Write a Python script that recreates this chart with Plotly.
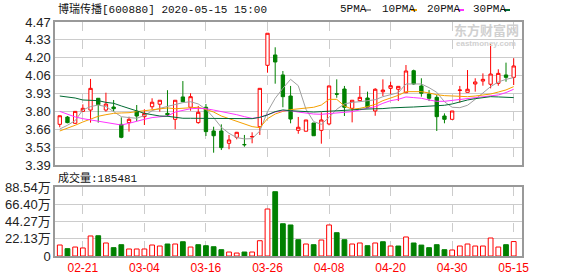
import plotly.graph_objects as go

dates = ["02-18","02-19","02-20","02-21","02-24","02-25","02-26","02-27","02-28",
         "03-02","03-03","03-04","03-05","03-06","03-09","03-10","03-11","03-12","03-13",
         "03-16","03-17","03-18","03-19","03-20","03-23","03-24","03-25","03-26","03-27",
         "03-30","03-31","04-01","04-02","04-03","04-07","04-08","04-09","04-10","04-13",
         "04-14","04-15","04-16","04-17","04-20","04-21","04-22","04-23","04-24","04-27",
         "04-28","04-29","04-30","05-06","05-07","05-08","05-11","05-12","05-13","05-14","05-15"]

opens = [3.697,3.752,3.705,3.795,3.805,3.894,3.805,3.828,3.697,3.710,
         3.796,3.755,3.830,3.849,3.780,3.735,3.904,3.826,3.710,3.826,
         3.647,3.647,3.554,3.599,3.545,3.602,3.679,4.143,4.221,4.070,
         3.911,3.652,3.645,3.707,3.652,3.700,3.928,3.964,3.818,3.876,
         3.896,3.798,3.943,3.969,3.962,3.936,4.102,3.987,3.926,3.901,
         3.760,3.735,3.953,3.939,4.002,4.024,4.000,4.007,4.070,4.052]
highs = [3.762,3.760,3.795,3.848,4.040,3.894,3.936,3.881,3.750,3.755,
         3.843,3.811,3.894,3.880,3.955,3.879,4.024,3.932,3.836,3.851,
         3.679,3.697,3.617,3.640,3.617,3.637,3.969,4.385,4.279,4.100,
         3.987,3.753,3.730,3.707,3.788,3.990,4.037,3.987,3.879,3.987,
         3.944,3.970,4.037,4.019,3.985,4.145,4.110,4.045,3.956,3.919,
         3.780,3.798,3.987,4.107,4.045,4.082,4.304,4.113,4.163,4.196]
lows = [3.675,3.705,3.700,3.795,3.710,3.710,3.793,3.793,3.592,3.642,
        3.722,3.692,3.811,3.793,3.755,3.660,3.865,3.800,3.702,3.609,
        3.483,3.503,3.509,3.584,3.528,3.554,3.617,4.087,4.004,3.826,
        3.705,3.626,3.645,3.611,3.551,3.690,3.898,3.760,3.712,3.870,
        3.826,3.762,3.911,3.926,3.873,3.936,3.995,3.906,3.873,3.647,
        3.705,3.735,3.861,3.939,3.944,3.989,3.969,3.989,4.019,3.994]
closes = [3.762,3.710,3.795,3.818,3.969,3.846,3.850,3.815,3.599,3.735,
          3.760,3.780,3.864,3.879,3.770,3.879,3.868,3.906,3.788,3.642,
          3.611,3.521,3.579,3.637,3.543,3.605,3.969,4.385,4.168,3.906,
          3.737,3.675,3.730,3.611,3.730,3.987,3.925,3.826,3.879,3.901,
          3.826,3.962,3.956,3.989,3.984,4.100,4.002,3.932,3.894,3.755,
          3.735,3.798,3.956,3.962,4.017,4.037,4.077,4.082,4.052,4.138]

ma5 = [3.662,3.690,3.725,3.806,3.831,3.843,3.831,3.793,3.755,3.748,
       3.743,3.763,3.800,3.818,3.833,3.848,3.861,3.868,3.851,3.811,
       3.748,3.675,3.629,3.597,3.587,3.589,3.647,3.793,3.894,3.969,
       4.037,3.989,3.811,3.718,3.697,3.750,3.811,3.851,3.863,3.868,
       3.873,3.883,3.906,3.921,3.936,4.002,4.002,4.002,3.974,3.939,
       3.868,3.826,3.823,3.841,3.886,3.931,3.982,4.017,4.037,4.050]
ma10 = [3.647,3.667,3.690,3.715,3.738,3.758,3.770,3.780,3.783,3.785,
        3.793,3.800,3.806,3.811,3.821,3.815,3.818,3.822,3.826,3.810,
        3.790,3.760,3.740,3.720,3.703,3.680,3.672,3.740,3.775,3.795,
        3.808,3.813,3.818,3.826,3.843,3.886,3.886,3.836,3.811,3.818,
        3.831,3.848,3.876,3.896,3.916,3.944,3.944,3.944,3.934,3.921,
        3.914,3.911,3.909,3.906,3.911,3.919,3.926,3.941,3.957,3.982]
ma20 = [3.795,3.773,3.753,3.740,3.730,3.718,3.710,3.700,3.692,3.705,
        3.722,3.735,3.748,3.755,3.760,3.790,3.805,3.815,3.818,3.815,
        3.805,3.795,3.785,3.770,3.755,3.742,3.750,3.768,3.790,3.800,
        3.800,3.790,3.780,3.775,3.773,3.778,3.785,3.790,3.793,3.806,
        3.821,3.831,3.856,3.876,3.886,3.904,3.899,3.894,3.881,3.871,
        3.871,3.878,3.886,3.891,3.899,3.904,3.911,3.919,3.937,3.962]
ma30 = [3.911,3.904,3.896,3.881,3.878,3.876,3.863,3.856,3.836,3.816,
        3.800,3.780,3.770,3.760,3.758,3.748,3.743,3.743,3.743,3.743,
        3.743,3.743,3.743,3.743,3.742,3.740,3.750,3.768,3.793,3.806,
        3.800,3.795,3.793,3.790,3.793,3.795,3.798,3.800,3.806,3.811,
        3.811,3.813,3.816,3.821,3.826,3.826,3.828,3.831,3.833,3.836,
        3.841,3.851,3.868,3.881,3.891,3.901,3.906,3.904,3.899,3.899]

volumes = [141000,94000,115000,103000,257000,260000,167000,107000,145000,90000,
           90000,90000,141000,128000,154000,154000,183000,115000,145000,132000,
           119000,81000,51000,38000,51000,51000,196000,603000,825000,414000,
           398000,209000,154000,145000,205000,398000,299000,209000,154000,167000,
           132000,167000,183000,128000,128000,244000,167000,140000,107000,145000,
           81000,77000,128000,154000,128000,128000,231000,115000,145000,185481]

x_ticks = ["02-21","03-04","03-16","03-26","04-08","04-20","04-30","05-15"]
price_ticks = [3.39,3.525,3.66,3.795,3.93,4.065,4.20,4.335,4.47]
price_ticktext = ["3.39","3.53","3.66","3.80","3.93","4.06","4.20","4.33","4.47"]
vol_ticks = [0,221350,442700,664050,885400]
vol_ticktext = ["0","22.13万","44.27万","66.40万","88.54万"]

title_text = "博瑞传播[600880] 2020-05-15 15:00"
vol_label = "成交量:185481"
ma_names = ["5PMA","10PMA","20PMA","30PMA"]

RED = "#ff0000"
GREEN = "#008000"
ma_colors = ["#a0a0a0", "#f5a000", "#ff33ff", "#006a32"]

# layout pixel helpers
W, H = 578, 276
L, R, T, B = 55, 522, 22, 256
def fx(px):
    return (px - L) / (R - L)
def fy(py):
    return (B - py) / (B - T)

fig = go.Figure()
fig.add_trace(go.Candlestick(
    x=dates, open=opens, high=highs, low=lows, close=closes,
    increasing=dict(line=dict(color=RED, width=1), fillcolor="white"),
    decreasing=dict(line=dict(color=GREEN, width=1), fillcolor=GREEN),
    xaxis="x", yaxis="y", showlegend=False, hoverinfo="skip"))

for name, vals, col in zip(ma_names, [ma5, ma10, ma20, ma30], ma_colors):
    fig.add_trace(go.Scatter(x=dates, y=vals, mode="lines", name=name,
                             line=dict(color=col, width=1),
                             xaxis="x", yaxis="y", showlegend=False, hoverinfo="skip"))

# volume bars coloured by close versus previous close
vol_up = [True] + [closes[i] >= closes[i - 1] for i in range(1, len(closes))]
fig.add_trace(go.Bar(
    x=dates, y=volumes, width=0.62,
    marker=dict(color=["white" if u else GREEN for u in vol_up],
                line=dict(color=[RED if u else GREEN for u in vol_up], width=1)),
    xaxis="x2", yaxis="y2", showlegend=False, hoverinfo="skip"))

xr = [-0.62, 60.08]
axis_common = dict(type="category", range=xr, tickvals=x_ticks, showgrid=True,
                   gridcolor="#cccccc", griddash="dash", gridwidth=1,
                   showline=True, linecolor="#999999", linewidth=1.5, mirror=True,
                   ticks="", zeroline=False, fixedrange=True, automargin=False)

fig.update_layout(
    width=W, height=H,
    margin=dict(l=L, r=W - R, t=T, b=H - B, autoexpand=False),
    paper_bgcolor="white", plot_bgcolor="white",
    boxgap=0.38,
    bargap=0.3,
    xaxis=dict(**axis_common, domain=[0, 1], anchor="y", showticklabels=False,
               rangeslider=dict(visible=False)),
    xaxis2=dict(**axis_common, domain=[0, 1], anchor="y2", showticklabels=True,
                tickfont=dict(family="Liberation Sans, Arial", size=12, color=RED)),
    yaxis=dict(domain=[fy(165), 1], range=[3.39, 4.47], tickvals=price_ticks,
               ticktext=price_ticktext, showgrid=True, gridcolor="#cccccc",
               showline=True, linecolor="#999999", linewidth=1.5, mirror=True,
               zeroline=False, ticks="", fixedrange=True, automargin=False,
               tickfont=dict(family="Liberation Sans, Arial", size=13, color="#222222")),
    yaxis2=dict(domain=[0, fy(187)], range=[0, 885400], tickvals=vol_ticks,
                ticktext=vol_ticktext, showgrid=True, gridcolor="#cccccc",
                showline=True, linecolor="#999999", linewidth=1.5, mirror=True,
                zeroline=False, ticks="", fixedrange=True, automargin=False,
                tickfont=dict(family="Liberation Sans, Noto Sans CJK SC", size=13, color="#222222")),
    font=dict(family="Liberation Sans, Noto Sans CJK SC"),
)

ann = []
ann.append(dict(text=title_text, xref="paper", yref="paper", x=fx(56), y=fy(9),
                xanchor="left", yanchor="middle", showarrow=False,
                font=dict(family="Liberation Mono, Noto Sans CJK SC", size=11, color="#111111")))
ann.append(dict(text=vol_label, xref="paper", yref="paper", x=fx(56), y=fy(177.5),
                xanchor="left", yanchor="middle", showarrow=False,
                font=dict(family="Liberation Mono, Noto Sans CJK SC", size=11, color="#111111")))

legend_x = [338, 380, 425, 471]
dash_x = [365, 411, 458, 504]
shapes = []
for name, lx, dx, col in zip(ma_names, legend_x, dash_x, ma_colors):
    ann.append(dict(text=name, xref="paper", yref="paper", x=fx(lx), y=fy(9.5),
                    xanchor="left", yanchor="middle", showarrow=False,
                    font=dict(family="Liberation Mono, monospace", size=11, color="#111111")))
    shapes.append(dict(type="rect", xref="paper", yref="paper",
                       x0=fx(dx), x1=fx(dx + 6), y0=fy(11), y1=fy(9),
                       fillcolor=col, line=dict(width=0)))

# watermark
ann.append(dict(text="<b>东方财富网</b>", xref="paper", yref="paper", x=fx(486), y=fy(30),
                xanchor="center", yanchor="middle", showarrow=False,
                font=dict(family="Noto Sans CJK SC", size=13, color="#d0d0d0")))
ann.append(dict(text="<b>eastmoney.com</b>", xref="paper", yref="paper", x=fx(486), y=fy(43.5),
                xanchor="center", yanchor="middle", showarrow=False,
                font=dict(family="Liberation Sans", size=8, color="#d0d0d0")))

fig.update_layout(annotations=ann, shapes=shapes)
fig.write_html("out.html")
